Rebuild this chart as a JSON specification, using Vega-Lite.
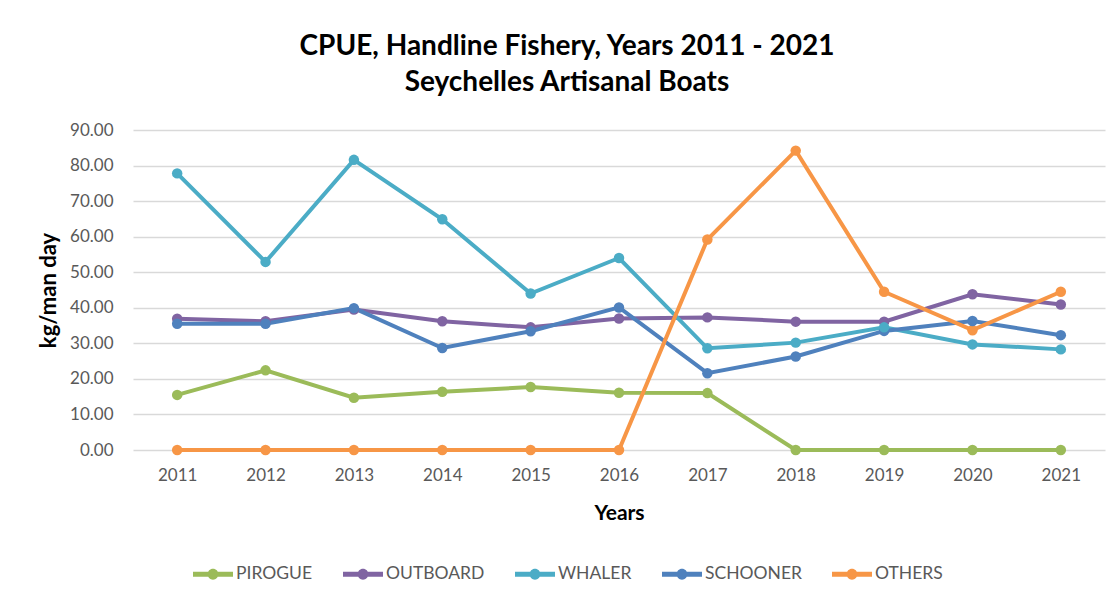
{
  "$schema": "https://vega.github.io/schema/vega-lite/v6.json",
  "width": 972,
  "height": 320,
  "autosize": {"type": "none"},
  "padding": {"left": 133, "top": 130, "right": 14, "bottom": 152},
  "background": "white",
  "title": {
    "text": ["CPUE, Handline Fishery, Years 2011 - 2021", "Seychelles Artisanal Boats"],
    "font": "Lato",
    "fontSize": 28,
    "fontWeight": "bold",
    "color": "#000000",
    "lineHeight": 36,
    "anchor": "middle",
    "frame": "group",
    "dx": -52,
    "offset": 24
  },
  "data": {
    "values": [
      {"year": "2011", "type": "PIROGUE", "value": 15.5},
      {"year": "2012", "type": "PIROGUE", "value": 22.4},
      {"year": "2013", "type": "PIROGUE", "value": 14.7},
      {"year": "2014", "type": "PIROGUE", "value": 16.4},
      {"year": "2015", "type": "PIROGUE", "value": 17.7},
      {"year": "2016", "type": "PIROGUE", "value": 16.1},
      {"year": "2017", "type": "PIROGUE", "value": 16.0},
      {"year": "2018", "type": "PIROGUE", "value": 0},
      {"year": "2019", "type": "PIROGUE", "value": 0},
      {"year": "2020", "type": "PIROGUE", "value": 0},
      {"year": "2021", "type": "PIROGUE", "value": 0},
      {"year": "2011", "type": "OUTBOARD", "value": 36.9},
      {"year": "2012", "type": "OUTBOARD", "value": 36.2},
      {"year": "2013", "type": "OUTBOARD", "value": 39.5},
      {"year": "2014", "type": "OUTBOARD", "value": 36.2},
      {"year": "2015", "type": "OUTBOARD", "value": 34.5},
      {"year": "2016", "type": "OUTBOARD", "value": 37.0},
      {"year": "2017", "type": "OUTBOARD", "value": 37.3},
      {"year": "2018", "type": "OUTBOARD", "value": 36.1},
      {"year": "2019", "type": "OUTBOARD", "value": 36.1},
      {"year": "2020", "type": "OUTBOARD", "value": 43.8},
      {"year": "2021", "type": "OUTBOARD", "value": 40.9},
      {"year": "2011", "type": "WHALER", "value": 77.8},
      {"year": "2012", "type": "WHALER", "value": 52.9},
      {"year": "2013", "type": "WHALER", "value": 81.6},
      {"year": "2014", "type": "WHALER", "value": 64.9},
      {"year": "2015", "type": "WHALER", "value": 44.0},
      {"year": "2016", "type": "WHALER", "value": 54.0},
      {"year": "2017", "type": "WHALER", "value": 28.6},
      {"year": "2018", "type": "WHALER", "value": 30.2},
      {"year": "2019", "type": "WHALER", "value": 34.5},
      {"year": "2020", "type": "WHALER", "value": 29.7},
      {"year": "2021", "type": "WHALER", "value": 28.3},
      {"year": "2011", "type": "SCHOONER", "value": 35.5},
      {"year": "2012", "type": "SCHOONER", "value": 35.5},
      {"year": "2013", "type": "SCHOONER", "value": 39.9},
      {"year": "2014", "type": "SCHOONER", "value": 28.7},
      {"year": "2015", "type": "SCHOONER", "value": 33.4},
      {"year": "2016", "type": "SCHOONER", "value": 40.1},
      {"year": "2017", "type": "SCHOONER", "value": 21.6},
      {"year": "2018", "type": "SCHOONER", "value": 26.3},
      {"year": "2019", "type": "SCHOONER", "value": 33.5},
      {"year": "2020", "type": "SCHOONER", "value": 36.3},
      {"year": "2021", "type": "SCHOONER", "value": 32.3},
      {"year": "2011", "type": "OTHERS", "value": 0},
      {"year": "2012", "type": "OTHERS", "value": 0},
      {"year": "2013", "type": "OTHERS", "value": 0},
      {"year": "2014", "type": "OTHERS", "value": 0},
      {"year": "2015", "type": "OTHERS", "value": 0},
      {"year": "2016", "type": "OTHERS", "value": 0},
      {"year": "2017", "type": "OTHERS", "value": 59.2},
      {"year": "2018", "type": "OTHERS", "value": 84.2},
      {"year": "2019", "type": "OTHERS", "value": 44.5},
      {"year": "2020", "type": "OTHERS", "value": 33.7},
      {"year": "2021", "type": "OTHERS", "value": 44.5}
    ]
  },
  "encoding": {
    "x": {
      "field": "year",
      "type": "ordinal",
      "scale": {"type": "point", "padding": 0.5},
      "axis": {
        "title": "Years",
        "titleFont": "Lato",
        "titleFontSize": 21,
        "titleFontWeight": "bold",
        "titleColor": "#000000",
        "titlePadding": 19,
        "labelFont": "Lato",
        "labelFontSize": 17,
        "labelColor": "#595959",
        "labelAngle": 0,
        "labelPadding": 17,
        "ticks": false,
        "domain": false,
        "grid": false
      }
    },
    "y": {
      "field": "value",
      "type": "quantitative",
      "scale": {"domain": [0, 90], "nice": false},
      "axis": {
        "title": "kg/man day",
        "titleFont": "Lato",
        "titleFontSize": 22,
        "titleFontWeight": "bold",
        "titleColor": "#000000",
        "titlePadding": 9,
        "values": [0, 10, 20, 30, 40, 50, 60, 70, 80, 90],
        "format": ".2f",
        "labelFont": "Lato",
        "labelFontSize": 17,
        "labelColor": "#595959",
        "labelPadding": 20,
        "ticks": false,
        "domain": false,
        "grid": true,
        "gridColor": "#D9D9D9",
        "gridWidth": 1.5
      }
    },
    "color": {
      "field": "type",
      "type": "nominal",
      "scale": {
        "domain": ["PIROGUE", "OUTBOARD", "WHALER", "SCHOONER", "OTHERS"],
        "range": ["#9BBB59", "#8064A2", "#4BACC6", "#4F81BD", "#F79646"]
      },
      "legend": {
        "title": null,
        "orient": "none",
        "direction": "horizontal",
        "legendX": 60,
        "legendY": 424,
        "symbolType": "M -1 -0.12 L 1 -0.12 L 1 0.12 L -1 0.12 Z M 0.27 0 A 0.27 0.27 0 1 1 -0.27 0 A 0.27 0.27 0 1 1 0.27 0 Z",
        "symbolSize": 1600,
        "symbolStrokeWidth": 0,
        "labelFont": "Lato",
        "labelFontSize": 17.5,
        "labelColor": "#595959",
        "labelOffset": 3,
        "columnPadding": 30
      }
    },
    "order": {"field": "type"}
  },
  "layer": [
    {"mark": {"type": "line", "strokeWidth": 4}},
    {"mark": {"type": "point", "filled": true, "size": 110, "opacity": 1}}
  ],
  "config": {"view": {"stroke": null}}
}
